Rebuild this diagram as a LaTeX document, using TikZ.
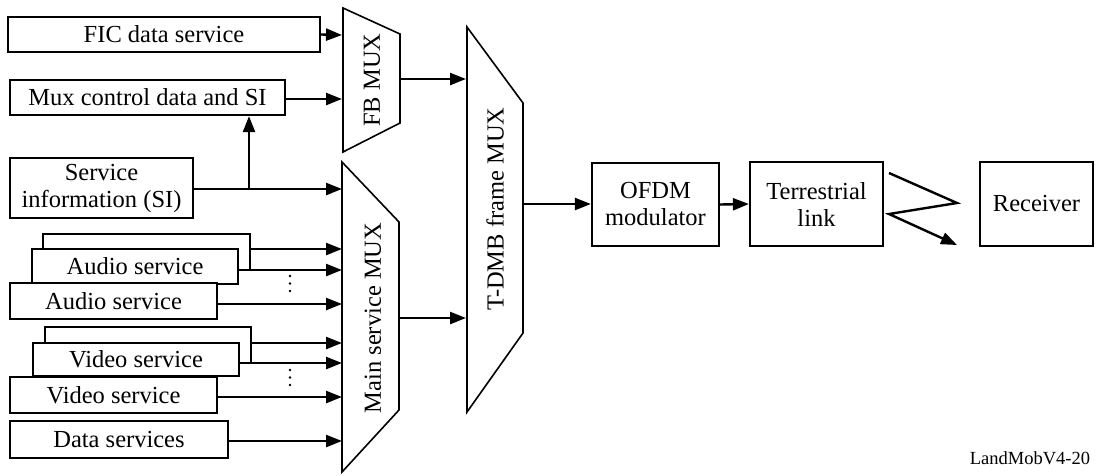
\documentclass[tikz,border=0pt]{standalone}
\usepackage{fontspec}
\setmainfont{Liberation Serif}
\usetikzlibrary{arrows.meta}
\begin{document}
\begin{tikzpicture}[x=1pt,y=-1pt,
  txt/.style={font=\fontsize{24.5}{27}\selectfont},
  box/.style={draw,line width=2.2pt,fill=white,inner sep=0pt,txt,align=center},
  mux/.style={draw,line width=1.6pt,line join=miter},
  arr/.style={line width=2.4pt,-{Triangle[length=16pt,width=12pt]}},
  ln/.style={line width=2.4pt},
  dot/.style={fill,circle,inner sep=0pt,minimum size=2.6pt}]
\useasboundingbox (0,0) rectangle (1100,475);
% boxes
\node[box,minimum width=312pt,minimum height=35pt] (fic) at (164,34.5) {FIC data service};
\node[box,minimum width=275pt,minimum height=35pt] (muxc) at (147.5,97.5) {Mux control data and SI};
\node[box,minimum width=183pt,minimum height=60pt] (si) at (101.5,188) {Service\\information (SI)};
% audio stack
\node[box,minimum width=207pt,minimum height=36pt] (a3) at (146.5,252) {};
\node[box,minimum width=206pt,minimum height=35pt] (a2) at (135,266.5) {Audio service};
\node[box,minimum width=207pt,minimum height=36pt] (a1) at (113.5,301) {Audio service};
% video stack
\node[box,minimum width=206pt,minimum height=36pt] (v3) at (148,345) {};
\node[box,minimum width=206pt,minimum height=33pt] (v2) at (136,359.5) {Video service};
\node[box,minimum width=207pt,minimum height=36pt] (v1) at (113.5,395) {Video service};
\node[box,minimum width=218pt,minimum height=37pt] (data) at (119,439.5) {Data services};
% muxes
\draw[mux] (343,8) -- (400,34) -- (400,123) -- (343,152) -- cycle;
\node[txt,rotate=90] (fbmux) at (372,80) {FB MUX};
\draw[mux] (342,162) -- (399,222) -- (399,410) -- (342,472) -- cycle;
\node[txt,rotate=90] (mainmux) at (373,318) {Main service MUX};
\draw[mux] (467,27) -- (523,103) -- (523,333) -- (467,412) -- cycle;
\node[txt,rotate=90] (tdmb) at (495,209) {T-DMB frame MUX};
% right boxes
\node[box,minimum width=127pt,minimum height=83pt] (ofdm) at (655.5,204.5) {OFDM\\modulator};
\node[box,minimum width=133pt,minimum height=84pt] (terr) at (816.5,204) {Terrestrial\\link};
\node[box,minimum width=113pt,minimum height=84pt] (rx) at (1036.5,204) {Receiver};
\node[font=\fontsize{18.5}{20}\selectfont] (lab) at (1030,458) {LandMobV4-20};
% coordinates on mux edges
\coordinate (fbin1) at (342,35);
\coordinate (fbin2) at (342,99);
\coordinate (fbout) at (400,79);
\coordinate (mmin0) at (342,189);
\coordinate (mmin1) at (342,249);
\coordinate (mmin2) at (342,270);
\coordinate (mmin3) at (342,304);
\coordinate (mmin4) at (342,343);
\coordinate (mmin5) at (342,363);
\coordinate (mmin6) at (342,397);
\coordinate (mmin7) at (342,441);
\coordinate (mmout) at (399,318);
\coordinate (tin1) at (466,79);
\coordinate (tin2) at (466,318);
\coordinate (tout) at (523,204);
\coordinate (sij) at (249,189);
\coordinate (z1) at (889,173);
\coordinate (z2) at (957,203);
\coordinate (z3) at (889,214);
\coordinate (z4) at (957,245);
% connectors
\draw[arr] (fic.east) -- (fbin1);
\draw[arr] (muxc.east |- fbin2) -- (fbin2);
\draw[arr] (si.east |- mmin0) -- (mmin0);
\draw[arr] (sij) -- (sij |- muxc.south);
\draw[arr] (fbout) -- (tin1);
\draw[arr] (a3.east |- mmin1) -- (mmin1);
\draw[arr] (a2.east |- mmin2) -- (mmin2);
\draw[arr] (a1.east |- mmin3) -- (mmin3);
\draw[arr] (v3.east |- mmin4) -- (mmin4);
\draw[arr] (v2.east |- mmin5) -- (mmin5);
\draw[arr] (v1.east |- mmin6) -- (mmin6);
\draw[arr] (data.east |- mmin7) -- (mmin7);
\draw[arr] (mmout) -- (tin2);
\draw[arr] (tout) -- (ofdm.west |- tout);
\draw[arr] (ofdm.east) -- (terr.west);
\draw[ln,line join=miter,-{Triangle[length=16pt,width=12pt]}] (z1) -- (z2) -- (z3) -- (z4);
% dots
\foreach \y in {276,283.5,291} \node[dot] at (290,\y) {};
\foreach \y in {370,377.5,385} \node[dot] at (290,\y) {};
\end{tikzpicture}
\end{document}
